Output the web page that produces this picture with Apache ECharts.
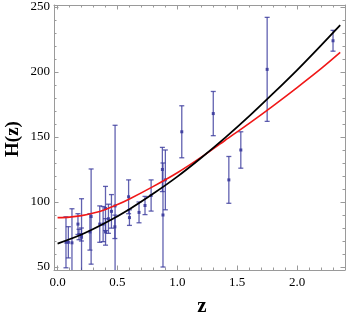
<!DOCTYPE html>
<html>
<head>
<meta charset="utf-8">
<script src="https://cdn.jsdelivr.net/npm/echarts@6/dist/echarts.min.js"></script>
<style>html,body{margin:0;padding:0;background:#fff;}#c{width:346px;height:319px;}</style>
</head>
<body>
<div id="c"></div>
<script>
// Observational H(z) data
const zObs   = [0.07, 0.09, 0.12, 0.17, 0.179, 0.199, 0.20, 0.27, 0.28, 0.352, 0.3802, 0.40, 0.4004, 0.4247, 0.4497, 0.4783, 0.48, 0.593, 0.60, 0.68, 0.73, 0.781, 0.875, 0.88, 0.90, 1.037, 1.30, 1.43, 1.53, 1.75, 2.30];
const hObs   = [69, 69, 68.6, 83, 75, 75, 72.9, 77, 88.8, 83, 83, 95, 77, 87.1, 92.8, 80.9, 97, 104, 88, 92, 97.3, 105, 125, 90, 117, 154, 168, 117, 140, 202, 224];
const sigObs = [19.6, 12, 26.2, 8, 4, 5, 29.6, 14, 36.6, 14, 13.5, 17, 10.2, 11.2, 12.9, 9, 62, 13, 6, 8, 7, 12, 17, 40, 23, 20, 17, 18, 14, 40, 8];

// Model curves
const zBlack = [0, 0.2, 0.4, 0.6, 0.8, 1.0, 1.2, 1.4, 1.6, 1.8, 2.0, 2.2, 2.36];
const hBlack = [68, 75, 84, 94.5, 106.5, 119.5, 134, 149.5, 166, 183.5, 201.5, 220.5, 236];
const zRed   = [0, 0.1, 0.2, 0.3, 0.4, 0.5, 0.6, 0.8, 1.0, 1.2, 1.4, 1.6, 1.8, 2.0, 2.2, 2.36];
const hRed   = [88, 88.4, 89.5, 91.5, 94.3, 98, 102.3, 112, 122.5, 134.5, 147.5, 160.5, 174, 188, 202.5, 215];

// Tick values
const xMajor = [0, 0.5, 1.0, 1.5, 2.0];
const xMinor = [0.1,0.2,0.3,0.4,0.6,0.7,0.8,0.9,1.1,1.2,1.3,1.4,1.6,1.7,1.8,1.9,2.1,2.2,2.3];
const yMajor = [50, 100, 150, 200, 250];
const yMinor = [60,70,80,90,110,120,130,140,160,170,180,190,210,220,230,240];

const X_MIN = -0.03, X_MAX = 2.4, Y_MIN = 47.7, Y_MAX = 251.5;
const frameColor = '#9a9a9a';
const barColor = '#3a3a9c';
const font = 'Liberation Serif';

function mkAxis(pos, ticks, major, isX) {
  return {
    type: 'value', position: pos,
    min: isX ? X_MIN : Y_MIN, max: isX ? X_MAX : Y_MAX,
    axisLine: { show: major, onZero: false, lineStyle: { color: frameColor, width: 1 } },
    axisTick: { show: true, inside: true, length: major ? 4.5 : 2.5, customValues: ticks,
                lineStyle: { color: frameColor, width: 1 } },
    axisLabel: (major && (pos === 'bottom' || pos === 'left')) ? {
      show: true, customValues: ticks, color: '#000', fontFamily: font, fontSize: 13,
      margin: isX ? 6 : 4,
      formatter: isX ? (v => v.toFixed(1)) : (v => String(v))
    } : { show: false },
    splitLine: { show: false }
  };
}

const chart = echarts.init(document.getElementById('c'), null, { renderer: 'canvas' });

const errData = zObs.map((z, i) => [z, hObs[i] - sigObs[i], hObs[i] + sigObs[i]]);
const ptData = zObs.map((z, i) => [z, hObs[i]]);

chart.setOption({
  animation: false,
  backgroundColor: '#fff',
  grid: { left: 54, right: 1, top: 5, bottom: 49, containLabel: false },
  xAxis: [
    mkAxis('bottom', xMajor, true, true),
    mkAxis('bottom', xMinor, false, true),
    mkAxis('top', xMajor, true, true),
    mkAxis('top', xMinor, false, true)
  ],
  yAxis: [
    mkAxis('left', yMajor, true, false),
    mkAxis('left', yMinor, false, false),
    mkAxis('right', yMajor, true, false),
    mkAxis('right', yMinor, false, false)
  ],
  series: [
    {
      type: 'custom', clip: true, xAxisIndex: 0, yAxisIndex: 0,
      data: errData,
      renderItem: function (params, api) {
        const x = api.value(0);
        const pLo = api.coord([x, api.value(1)]);
        const pHi = api.coord([x, api.value(2)]);
        const w = 2.5;
        const st = { stroke: barColor, lineWidth: 1.3, opacity: 0.8 };
        return {
          type: 'group',
          children: [
            { type: 'line', shape: { x1: pLo[0], y1: pLo[1], x2: pHi[0], y2: pHi[1] }, style: st },
            { type: 'line', shape: { x1: pLo[0] - w, y1: pLo[1], x2: pLo[0] + w, y2: pLo[1] }, style: st },
            { type: 'line', shape: { x1: pHi[0] - w, y1: pHi[1], x2: pHi[0] + w, y2: pHi[1] }, style: st }
          ]
        };
      },
      z: 2
    },
    {
      type: 'scatter', xAxisIndex: 0, yAxisIndex: 0,
      data: ptData, symbol: 'rect', symbolSize: 3,
      itemStyle: { color: barColor, opacity: 0.9 }, z: 3
    },
    {
      type: 'line', xAxisIndex: 0, yAxisIndex: 0,
      data: zRed.map((z, i) => [z, hRed[i]]),
      smooth: 0.3, showSymbol: false,
      lineStyle: { color: '#f01818', width: 1.6 }, z: 4
    },
    {
      type: 'line', xAxisIndex: 0, yAxisIndex: 0,
      data: zBlack.map((z, i) => [z, hBlack[i]]),
      smooth: 0.3, showSymbol: false,
      lineStyle: { color: '#000', width: 1.8 }, z: 5
    }
  ],
  graphic: [
    { type: 'text', x: 13, y: 139, rotation: Math.PI / 2,
      style: { text: 'H(z)', font: 'bold 19px "Liberation Serif"', fill: '#000',
               textAlign: 'center', textVerticalAlign: 'middle' } },
    { type: 'text', x: 202, y: 307,
      style: { text: 'z', font: 'bold 21px "Liberation Serif"', fill: '#000',
               textAlign: 'center', textVerticalAlign: 'middle' } }
  ]
});
</script>
</body>
</html>
